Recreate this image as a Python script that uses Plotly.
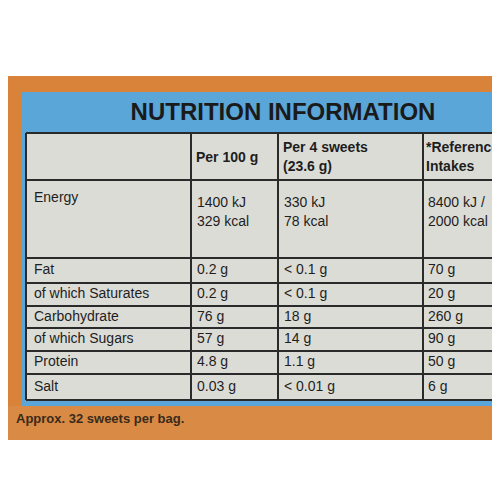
import plotly.graph_objects as go

headers = ["", "Per 100 g", "Per 4 sweets<br>(23.6 g)", "*Reference<br>Intakes"]
nutrients = ["Energy", "Fat", "of which Saturates", "Carbohydrate", "of which Sugars", "Protein", "Salt"]
per100 = ["1400 kJ<br>329 kcal", "0.2 g", "0.2 g", "76 g", "57 g", "4.8 g", "0.03 g"]
per4 = ["330 kJ<br>78 kcal", "< 0.1 g", "< 0.1 g", "18 g", "14 g", "1.1 g", "< 0.01 g"]
ref = ["8400 kJ /<br>2000 kcal", "70 g", "20 g", "260 g", "90 g", "50 g", "6 g"]
title = "NUTRITION INFORMATION"
footer = "Approx. 32 sweets per bag."

col_x = [18, 183, 270, 415, 500]
row_y = [125, 172, 250, 275, 298, 320, 343, 366, 392]

fig = go.Figure()
shapes = [
    dict(type="rect", x0=0, x1=500, y0=68, y1=432, fillcolor="#d9823a", line_width=0, layer="below"),
    dict(type="rect", x0=14, x1=500, y0=84, y1=398, fillcolor="#5aa6d8", line_width=0, layer="below"),
    dict(type="rect", x0=18, x1=500, y0=125, y1=392, fillcolor="#dcdcd6", line_width=0, layer="below"),
    dict(type="rect", x0=0, x1=500, y0=398, y1=432, fillcolor="#d98a45", line_width=0, layer="below"),
]
for x in col_x:
    shapes.append(dict(type="line", x0=x, x1=x, y0=125, y1=392, line=dict(color="#2a2a2a", width=2)))
for y in row_y:
    shapes.append(dict(type="line", x0=18, x1=500, y0=y, y1=y, line=dict(color="#2a2a2a", width=2)))
fig.update_layout(shapes=shapes)

font = dict(family="Liberation Sans, Arial", size=14, color="#1e1e1e")
def add_text(xs, ys, texts, bold=False):
    fig.add_trace(go.Scatter(x=xs, y=ys, mode="text",
        text=[f"<b>{t}</b>" if bold else t for t in texts],
        textposition="middle right", textfont=font, hoverinfo="skip", showlegend=False))

mid = [(row_y[i] + row_y[i+1]) / 2 for i in range(1, len(row_y)-1)]
mid[0] = 205
hy = 150
add_text([col_x[1] + 5, col_x[2] + 5, col_x[3] + 3], [hy]*3, headers[1:], bold=True)
add_text([col_x[0] + 8]*len(nutrients), [190] + mid[1:], nutrients)
add_text([col_x[1] + 6]*len(per100), mid, per100)
add_text([col_x[2] + 6]*len(per4), mid, per4)
add_text([col_x[3] + 5]*len(ref), mid, ref)
fig.add_trace(go.Scatter(x=[275], y=[106], mode="text", text=[f"<b>{title}</b>"],
    textfont=dict(family="Liberation Sans, Arial", size=24, color="#1a1a1a"), hoverinfo="skip", showlegend=False))
fig.add_trace(go.Scatter(x=[8], y=[412], mode="text", text=[f"<b>{footer}</b>"], textposition="middle right",
    textfont=dict(family="Liberation Sans, Arial", size=13, color="#3a2a1a"), hoverinfo="skip", showlegend=False))

fig.update_xaxes(range=[0, 500], visible=False, fixedrange=True)
fig.update_yaxes(range=[500, 0], visible=False, fixedrange=True)
fig.update_layout(width=500, height=500, margin=dict(l=0, r=0, t=0, b=0),
    paper_bgcolor="white", plot_bgcolor="white")
fig.write_html("out.html")
